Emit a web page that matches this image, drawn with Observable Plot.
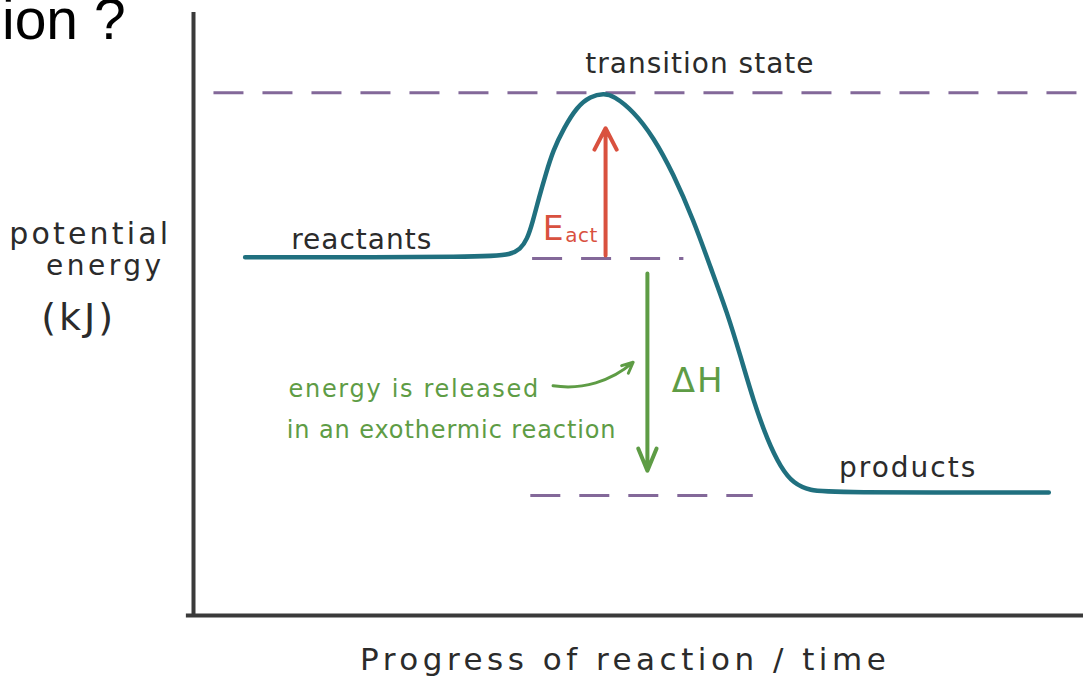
<!DOCTYPE html>
<html>
<head>
<meta charset="utf-8">
<script src="https://cdn.jsdelivr.net/npm/d3@7"></script>
<script src="https://cdn.jsdelivr.net/npm/@observablehq/plot@0.6"></script>
<style>
html, body { margin: 0; padding: 0; background: #fff; }
#wrap { position: relative; width: 1083px; height: 689px; overflow: hidden; }
#title { position: absolute; left: 2px; top: -9px; line-height: 57px; font-family: "Liberation Sans", Arial, sans-serif; font-size: 57px; color: #000; white-space: nowrap; z-index: 2; }
#chart svg { display: block; }
</style>
</head>
<body>
<div id="wrap">
  <div id="title">ion ?</div>
  <div id="chart"></div>
</div>
<script>
// ---- data (x: progress of reaction, 0–100; y: potential energy, 0–100 arbitrary) ----
const progress = [5.8, 33.4, 35.6, 36.7, 37.5, 38.1, 38.8, 39.6, 40.4, 41.6, 43.1, 44.6, 46.1, 47.2, 49.4, 51.7, 53.9, 56.2, 58.1, 60.0, 61.5, 62.9, 64.5, 66.0, 67.4, 69.3, 71.6, 96.1];
const energy   = [59.4, 59.4, 59.9, 60.7, 62.4, 65.2, 69.2, 73.3, 77.1, 80.8, 84.4, 86.1, 86.6, 86.2, 83.7, 79.3, 73.3, 65.5, 57.7, 50.1, 42.8, 35.7, 29.0, 24.5, 21.9, 20.7, 20.4, 20.4];

const levelNames = ["transition state", "reactants", "products"];
const levelEnergy = [86.7, 59.2, 19.9];
const levelFrom   = [2.3, 38.1, 37.9];
const levelTo     = [100, 55.1, 62.9];

const stateLabels = ["transition state", "reactants", "products"];
const stateLabelX = [56.9, 18.9, 80.3];
const stateLabelY = [89.9, 60.7, 22.9];

const eactArrow = [{x: 46.3, y1: 59.7, y2: 80.8}];
const dhArrow   = [{x: 51.0, y1: 56.7, y2: 24.0}];
const noteArrow = [{x1: 40.4, y1: 38.1, x2: 49.4, y2: 42.0}];

const noteLines = ["energy is released", "in an exothermic reaction"];
const noteX = [24.8, 29.0];
const noteY = [36.2, 29.4];

const axisLabelY = ["potential", "energy", "(kJ)"];
const axisLabelYX = [-11.6, -9.9, -12.9];
const axisLabelYY = [61.6, 56.4, 47.3];
const axisLabelX = "Progress of reaction / time";

const curve = progress.map((x, i) => ({x, y: energy[i]}));
const levels = levelNames.map((name, i) => ({name, y: levelEnergy[i], x1: levelFrom[i], x2: levelTo[i]}));
const states = stateLabels.map((text, i) => ({text, x: stateLabelX[i], y: stateLabelY[i]}));
const notes = noteLines.map((text, i) => ({text, x: noteX[i], y: noteY[i]}));
const yLab = axisLabelY.map((text, i) => ({text, x: axisLabelYX[i], y: axisLabelYY[i]}));

const ink = "#2b2b2b";
const hand = "DejaVu Sans, sans-serif";
const teal = "#20707f";
const red = "#d9513f";
const green = "#5e9c45";
const purple = "#76588e";

const chart = Plot.plot({
  width: 1083,
  height: 689,
  marginLeft: 193,
  marginRight: 0,
  marginTop: 12,
  marginBottom: 74,
  x: {domain: [0, 100], axis: null},
  y: {domain: [0, 100], axis: null},
  marks: [
    // axes (hand drawn look)
    Plot.ruleX([0], {y1: -0.3, y2: 100, stroke: "#3a3a3a", strokeWidth: 4}),
    Plot.ruleY([0], {x1: -0.8, x2: 100, stroke: "#3a3a3a", strokeWidth: 4}),
    // dashed energy levels
    Plot.ruleY(levels, {y: "y", x1: "x1", x2: "x2", stroke: purple, strokeWidth: 3, strokeDasharray: "30,19", strokeOpacity: 0.9}),
    // energy profile
    Plot.line(curve, {x: "x", y: "y", curve: "basis", stroke: teal, strokeWidth: 4.5}),
    // Eact arrow
    Plot.arrow(eactArrow, {x: "x", y1: "y1", y2: "y2", stroke: red, strokeWidth: 4, headLength: 9, headAngle: 55}),
    Plot.text(["E"], {x: 40.4, y: 62.2, text: d => d, fill: red, fontSize: 33, fontFamily: hand, lineAnchor: "bottom"}),
    Plot.text(["act"], {x: 43.6, y: 61.9, text: d => d, fill: red, fontSize: 20, fontFamily: hand, lineAnchor: "bottom"}),
    // Delta H arrow
    Plot.arrow(dhArrow, {x: "x", y1: "y1", y2: "y2", stroke: green, strokeWidth: 4, headLength: 9, headAngle: 45}),
    Plot.text(["ΔH"], {x: 56.7, y: 37.0, text: d => d, fill: green, fontSize: 34, fontFamily: hand, lineAnchor: "bottom"}),
    // note with curved arrow
    Plot.arrow(noteArrow, {x1: "x1", y1: "y1", x2: "x2", y2: "y2", bend: -25, stroke: green, strokeWidth: 3, headLength: 6, headAngle: 50}),
    Plot.text(notes, {x: "x", y: "y", text: "text", fill: green, fontSize: 24, fontFamily: hand, lineAnchor: "bottom"}),
    // state labels
    Plot.text(states, {x: "x", y: "y", text: "text", fill: ink, fontSize: 28, fontFamily: hand, lineAnchor: "bottom"}),
    // axis labels
    Plot.text(yLab, {x: "x", y: "y", text: "text", fill: ink, fontSize: d => d.text === "(kJ)" ? 38 : d.text === "potential" ? 30 : 28, fontFamily: hand, lineAnchor: "bottom"}),
    Plot.text([axisLabelX], {x: 48.5, y: -9.1, text: d => d, fill: ink, fontSize: 31, fontFamily: hand, lineAnchor: "bottom"})
  ]
});

// letter spacing to mimic handwriting width
const spacing = {
  "transition state": 1, "reactants": 1, "products": 2,
  "energy is released": 1.7, "in an exothermic reaction": 0.9,
  "potential": 3.2, "energy": 3.5, "(kJ)": 3, "ΔH": 2,
  "Progress of reaction / time": 4.5, "act": 0.5
};
d3.select(chart).selectAll("text").each(function () {
  const s = spacing[this.textContent];
  if (s) this.style.letterSpacing = s + "px";
});
document.getElementById("chart").appendChild(chart);
</script>
</body>
</html>
